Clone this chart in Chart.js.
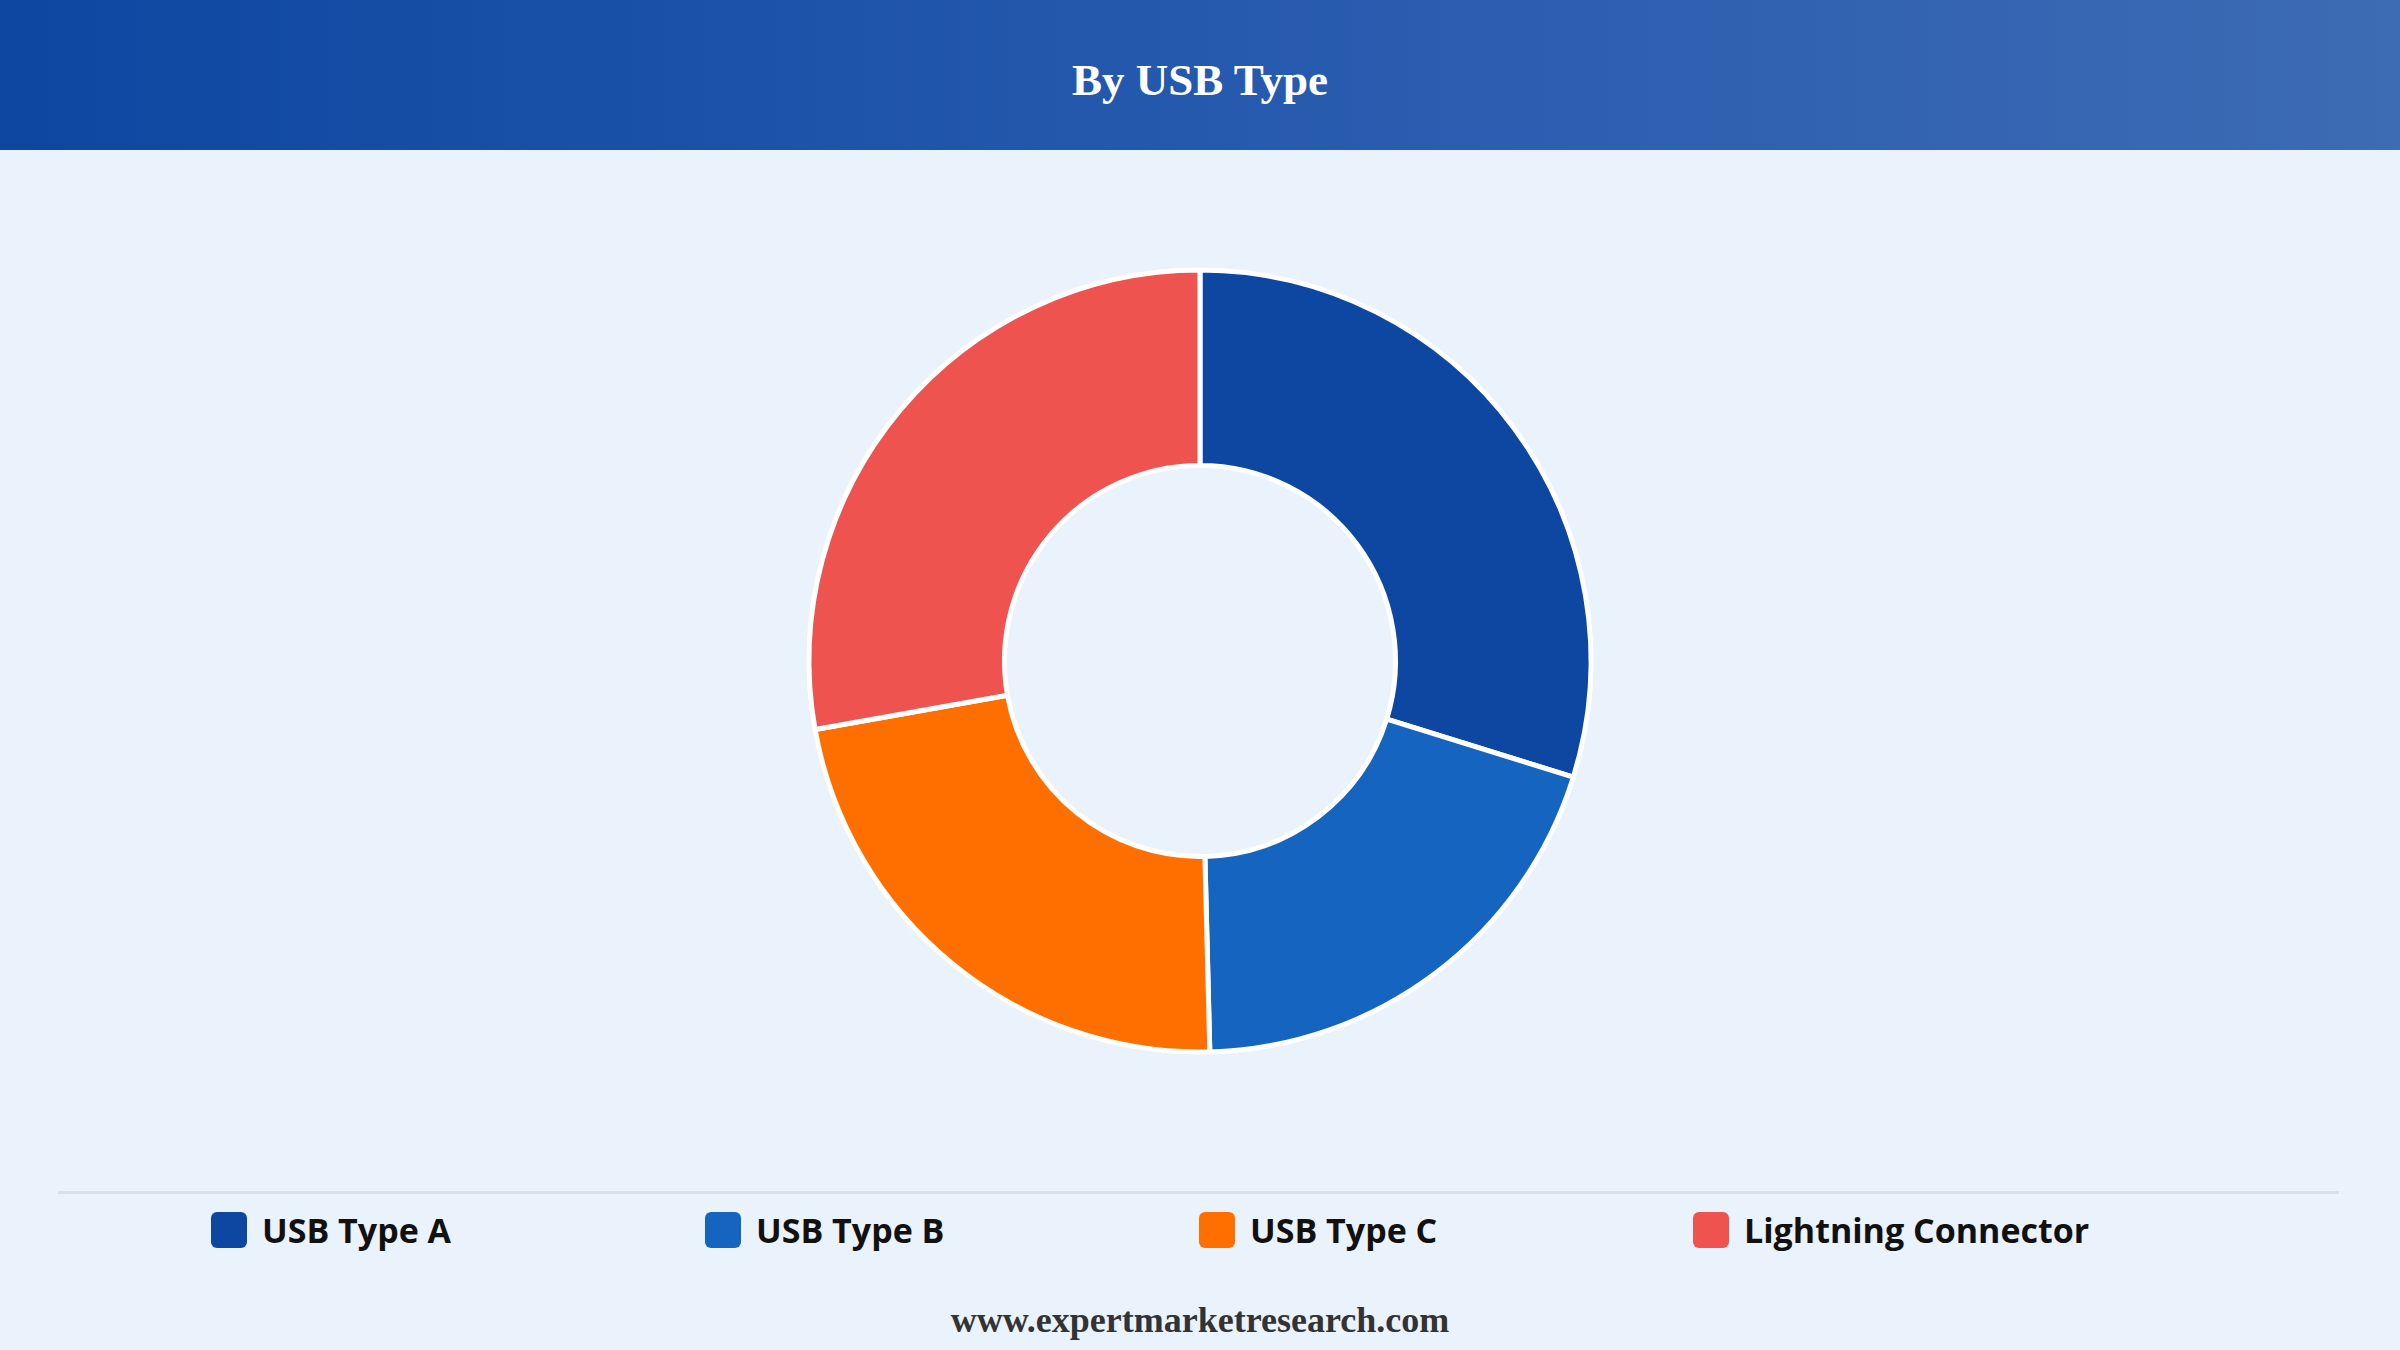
<!DOCTYPE html>
<html>
<head>
<meta charset="utf-8">
<script src="https://cdn.jsdelivr.net/npm/chart.js@4"></script>
<style>
  html, body { margin: 0; padding: 0; width: 2400px; height: 1350px; overflow: hidden; background: #EAF2FB; }
  #header { position: absolute; left: 0; top: 0; width: 2400px; height: 150px;
    background: linear-gradient(to right, #0D47A1 0%, #2A5DB0 60%, #3D6BB4 100%); }
  #header h1 { position: absolute; left: 0; width: 2400px; top: 50px; margin: 0; text-align: center; line-height: 60px; color: #fff; font-family: "Liberation Serif", "Times New Roman", serif; font-weight: bold; font-size: 45px; }
  #chartWrap { position: absolute; left: 0; top: 170px; width: 2400px; height: 982px; }
  #sep { position: absolute; left: 58px; top: 1191px; width: 2281px; height: 3px; background: #DCE0E6; }
  #legend { position: absolute; left: 211px; top: 1206px; height: 48px; display: flex; }
  .item { width: 494px; display: flex; align-items: center; font-family: "Open Sans", "Noto Sans", sans-serif; font-weight: bold; font-size: 34px; color: #111; }
  .box { width: 36px; height: 36px; border-radius: 6px; margin-right: 15px; flex: none; }
  #footer { position: absolute; left: 0; top: 1299px; width: 2400px; text-align: center;
    font-family: "Liberation Serif", "Times New Roman", serif; font-weight: bold; font-size: 36px; color: #333; }
</style>
</head>
<body>
<div id="header"><h1 id="title"></h1></div>
<div id="chartWrap"><canvas id="c"></canvas></div>
<div id="sep"></div>
<div id="legend"></div>
<div id="footer">www.expertmarketresearch.com</div>
<script>
const titleText = "By USB Type";
const categories = ["USB Type A", "USB Type B", "USB Type C", "Lightning Connector"];
const shares = [29.8, 19.8, 22.6, 27.8];
const colors = ["#0D47A1", "#1565C0", "#FF6F00", "#EF5350"];

document.getElementById("title").textContent = titleText;
const legend = document.getElementById("legend");
categories.forEach((c, i) => {
  const it = document.createElement("div");
  it.className = "item";
  const b = document.createElement("span");
  b.className = "box";
  b.style.background = colors[i];
  const t = document.createElement("span");
  t.textContent = c;
  it.appendChild(b); it.appendChild(t);
  legend.appendChild(it);
});

new Chart(document.getElementById("c"), {
  type: "doughnut",
  data: {
    labels: categories,
    datasets: [{ data: shares, backgroundColor: colors, borderColor: "#FFFFFF", borderWidth: 5 }]
  },
  options: {
    responsive: true,
    maintainAspectRatio: false,
    animation: false,
    radius: 391,
    cutout: "50%",
    layout: { padding: 0 },
    plugins: { legend: { display: false }, tooltip: { enabled: false } }
  }
});
</script>
</body>
</html>
